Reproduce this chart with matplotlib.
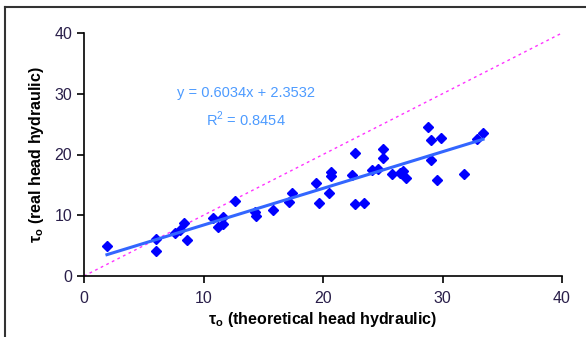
import numpy as np
import matplotlib
matplotlib.use("Agg")
import matplotlib.pyplot as plt
from matplotlib.lines import Line2D

plt.rcParams["font.family"] = ["Liberation Sans", "DejaVu Sans"]
plt.rcParams["mathtext.fontset"] = "custom"
plt.rcParams["mathtext.rm"] = "Liberation Sans"
plt.rcParams["mathtext.bf"] = "Liberation Sans:bold"

# valores
tau_teorico = [1.92, 6.03, 6.03, 7.62, 8.03, 8.37, 8.62, 10.79, 11.21, 11.63,
               11.63, 12.64, 14.31, 14.39, 15.82, 17.15, 17.41, 19.41, 19.67, 20.67,
               20.67, 20.50, 22.43, 22.68, 22.68, 23.43, 24.10, 24.60, 25.02, 25.02,
               25.77, 26.44, 26.69, 26.95, 28.79, 29.04, 29.87, 29.04, 29.54, 31.80,
               32.89, 33.39]
tau_real = [4.94, 6.09, 4.12, 7.08, 7.57, 8.72, 5.93, 9.55, 8.07, 9.71,
            8.56, 12.35, 10.53, 9.88, 10.86, 12.18, 13.66, 15.31, 11.98, 17.12,
            16.46, 13.66, 16.63, 20.25, 11.85, 12.02, 17.45, 17.61, 20.91, 19.42,
            16.79, 16.95, 17.28, 16.13, 24.53, 22.39, 22.72, 19.09, 15.80, 16.79,
            22.55, 23.54]
inclinacao = 0.6034
intercepto = 2.3532
r2 = 0.8454
linha_1para1 = [0, 40]

x = np.array(tau_teorico)
y = np.array(tau_real)

fig = plt.figure(figsize=(5.86, 3.37), dpi=100)
ax = fig.add_axes([84 / 586, 61 / 337, 478 / 586, 243 / 337])

# linha 1:1
ax.plot(linha_1para1, linha_1para1, color="#FF33FF", lw=1.0, ls=(0, (2, 2.5)))

# pontos
ax.plot(x, y, ls="none", marker="D", ms=5.5, color="#0000FF", mec="#0000FF")

# linha de tendencia
xt = np.array([x.min(), x.max()])
ax.plot(xt, inclinacao * xt + intercepto, color="#3366FF", lw=2.2)

ax.text(0.339, 0.693, f"y = {inclinacao}x + {intercepto}\nR$^2$ = {r2}",
        transform=ax.transAxes, ha="center", va="center", color="#4D9BFF",
        fontsize=10.5, linespacing=1.55)

ax.set_xlim(0, 40)
ax.set_ylim(0, 40)
ax.set_xticks([0, 10, 20, 30, 40])
ax.set_yticks([0, 10, 20, 30, 40])
ax.spines["top"].set_visible(False)
ax.spines["right"].set_visible(False)
for s in ("left", "bottom"):
    ax.spines[s].set_linewidth(1.2)
ax.tick_params(direction="out", length=5, width=1.2, labelsize=11.5, labelcolor="#2a1f4a")
ax.tick_params(axis="x", pad=6)

ax.set_xlabel(r"$\mathbf{\tau_o}$ (theoretical head hydraulic)", fontsize=11.5,
              fontweight="bold", labelpad=3)
ax.set_ylabel(r"$\mathbf{\tau_o}$ (real head hydraulic)", fontsize=11.5,
              fontweight="bold", labelpad=6)

# moldura do grafico
fig.add_artist(Line2D([5 / 586, 5 / 586], [0, 330 / 337], color="#333333", lw=1.5))
fig.add_artist(Line2D([5 / 586, 1], [330 / 337, 330 / 337], color="#333333", lw=1.5))

fig.savefig("out.png", dpi=100)
